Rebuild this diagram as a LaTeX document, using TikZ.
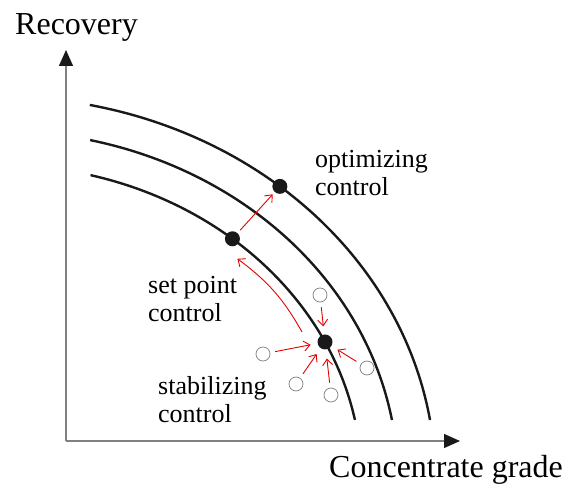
\documentclass[tikz,border=0pt]{standalone}
\usepackage{fontspec}
\setmainfont{Liberation Serif}
\usetikzlibrary{arrows.meta,calc}

\tikzset{
  curve/.style={line width=2.4pt, black!90},
  axis/.style={gray, line width=1.3pt, -{Triangle[length=16pt,width=14pt,color=black!90]}},
  dot/.style={circle, fill=black!90, inner sep=0pt, minimum size=15pt},
  probe/.style={circle, draw=gray, line width=0.7pt, inner sep=0pt, minimum size=14pt},
  redarrow/.style={red!90!black, line width=0.9pt, -{Straight Barb[length=6pt,width=10pt]}},
  axislabel/.style={font=\fontsize{32}{35}\selectfont, inner sep=0pt, anchor=base west},
  ctrllabel/.style={font=\fontsize{26}{28.5}\selectfont, inner sep=0pt, align=left, anchor=base west}
}

\begin{document}
\begin{tikzpicture}[x=1pt, y=-1pt]
        \useasboundingbox (0,0) rectangle (566,486);

        % Axes
        \coordinate (origin) at (66,441);
        \coordinate (ytip) at (66,50);
        \coordinate (xtip) at (460,441);
        \draw[axis] (origin) -- (ytip);
        \draw[axis] (origin) -- (xtip);
        \node[axislabel] (recovery) at (15,35) {Recovery};
        \node[axislabel] (grade) at (329,478) {Concentrate grade};

        % Grade-recovery curves
        \draw[curve] plot[domain=75.5:11, samples=80] ({361.6*cos(\x)}, {480-314.9*sin(\x)});
        \draw[curve] plot[domain=76.9:9.9, samples=80] ({397.9*cos(\x)}, {480-349.0*sin(\x)});
        \draw[curve] plot[domain=78.1:9, samples=80] ({435.4*cos(\x)}, {480-383.3*sin(\x)});

        % Operating points
        \node[dot] (opt) at ({435.4*cos(50)}, {480-383.3*sin(50)}) {};
        \node[dot] (setp) at ({361.6*cos(50)}, {480-314.9*sin(50)}) {};
        \node[dot] (stab) at ({361.6*cos(26)}, {480-314.9*sin(26)}) {};

        % Disturbed states
        \node[probe] (dist1) at (320,295) {};
        \node[probe] (dist2) at (263,354) {};
        \node[probe] (dist3) at (296,384) {};
        \node[probe] (dist4) at (331,395) {};
        \node[probe] (dist5) at (367,368) {};

        % Arrows
        \draw[redarrow, shorten <=4pt, shorten >=3pt] (setp) -- (opt);
        \draw[redarrow] ($(stab)+(-23,-10)$) to[bend right=12] ($(setp)+(5,20)$);
        \draw[redarrow, shorten <=5pt, shorten >=8pt] (dist1) -- (stab);
        \draw[redarrow, shorten <=5pt, shorten >=7pt] (dist2) -- (stab);
        \draw[redarrow, shorten <=5pt, shorten >=7pt] (dist3) -- (stab);
        \draw[redarrow, shorten <=5pt, shorten >=9pt] (dist4) -- (stab);
        \draw[redarrow, shorten <=5pt, shorten >=7pt] (dist5) -- (stab);

        % Labels
        \node[ctrllabel] (optlabel) at (315,196) {optimizing\\control};
        \node[ctrllabel] (setlabel) at (148,322) {set point\\control};
        \node[ctrllabel] (stablabel) at (158,423) {stabilizing\\control};
\end{tikzpicture}
\end{document}
